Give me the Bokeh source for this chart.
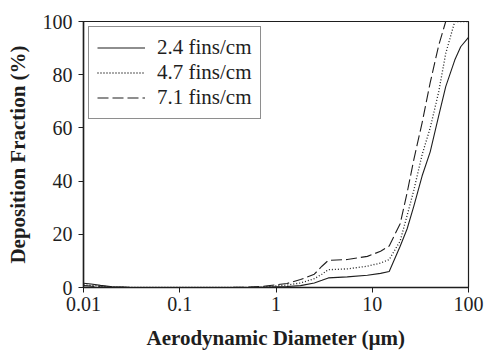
from bokeh.plotting import figure
from bokeh.models import FixedTicker, Legend, LegendItem
from bokeh.embed import file_html
from bokeh.resources import INLINE

# ---- data ----
diam = [0.01, 0.012, 0.015, 0.02, 0.03, 0.1, 0.3, 0.5, 0.7, 1.0, 1.3, 1.8, 2.5, 3.0, 3.5,
        5.5, 8.9, 12.2, 15, 19.5, 23, 27, 33, 40, 49, 58, 72, 83, 100]
fins_24 = [1.6, 1.3, 0.8, 0.3, 0.05, 0, 0, 0, 0.1, 0.3, 0.4, 0.7, 1.7, 2.7, 3.6,
           4.0, 4.6, 5.3, 6.0, 15.5, 22, 30.5, 42, 51, 64.5, 75.5, 85.5, 90.5, 94]
fins_47 = [1.0, 0.8, 0.5, 0.2, 0.05, 0, 0, 0.05, 0.2, 0.6, 0.9, 1.7, 3.3, 5.0, 6.7,
           7.0, 8.0, 9.2, 10.5, 17.5, 27, 36.5, 50, 60, 73.5, 88, 100, 100, 100]
fins_71 = [0.7, 0.5, 0.3, 0.1, 0, 0, 0, 0.1, 0.4, 1.0, 1.5, 3.0, 5.0, 8.0, 10.2,
           10.5, 11.7, 13.6, 15.6, 24, 35.5, 48, 62, 77, 91, 100, 100, 100, 100]
series_names = ["2.4 fins/cm", "4.7 fins/cm", "7.1 fins/cm"]
x_ticks = [0.01, 0.1, 1, 10, 100]
x_tick_labels = ["0.01", "0.1", "1", "10", "100"]
y_ticks = [0, 20, 40, 60, 80, 100]

FONT = "Liberation Serif"
INK = "#1e1e1e"

p = figure(width=484, height=352, x_axis_type="log",
           x_range=(0.01, 100), y_range=(0, 100),
           output_backend="svg", toolbar_location=None,
           min_border_left=83, min_border_right=16,
           min_border_top=21, min_border_bottom=64)
p.background_fill_color = "white"
p.border_fill_color = "white"
p.outline_line_color = INK
p.outline_line_width = 1.2
p.xgrid.visible = False
p.ygrid.visible = False

r1 = p.line(diam, fins_24, line_color=INK, line_width=1.1)
r2 = p.line(diam, fins_47, line_color=INK, line_width=1.3, line_dash="1 2")
r3 = p.line(diam, fins_71, line_color=INK, line_width=1.1, line_dash="11 4")

# axes
p.xaxis.ticker = FixedTicker(ticks=x_ticks)
p.xaxis.major_label_overrides = {t: l for t, l in zip(x_ticks, x_tick_labels)}
p.yaxis.ticker = FixedTicker(ticks=y_ticks)
for ax in (p.xaxis[0], p.yaxis[0]):
    ax.axis_line_color = INK
    ax.axis_line_width = 1.5
    ax.major_tick_line_color = INK
    ax.major_tick_in = 0
    ax.major_tick_out = 5
    ax.minor_tick_line_color = None
    ax.major_label_text_font = FONT
    ax.major_label_text_font_size = "20px"
    ax.major_label_text_color = INK
    ax.axis_label_text_font = FONT
    ax.axis_label_text_font_size = "21px"
    ax.axis_label_text_font_style = "bold"
    ax.axis_label_text_color = INK

p.xaxis.axis_label = "Aerodynamic Diameter (µm)"
p.yaxis.axis_label = "Deposition Fraction (%)"
p.xaxis.major_label_standoff = 4
p.xaxis.axis_label_standoff = 12
p.yaxis.major_label_standoff = 6
p.yaxis.axis_label_standoff = 10

legend = Legend(items=[LegendItem(label=series_names[0], renderers=[r1]),
                       LegendItem(label=series_names[1], renderers=[r2]),
                       LegendItem(label=series_names[2], renderers=[r3])],
                location="top_left")
legend.margin = 5
legend.padding = 8
legend.spacing = 0
legend.glyph_width = 48
legend.glyph_height = 25
legend.label_height = 25
legend.label_standoff = 12
legend.label_text_font = FONT
legend.label_text_font_size = "21px"
legend.label_text_color = INK
legend.border_line_color = INK
legend.border_line_width = 1
legend.background_fill_alpha = 1
p.add_layout(legend)

open("out.html", "w").write(file_html(p, INLINE))
